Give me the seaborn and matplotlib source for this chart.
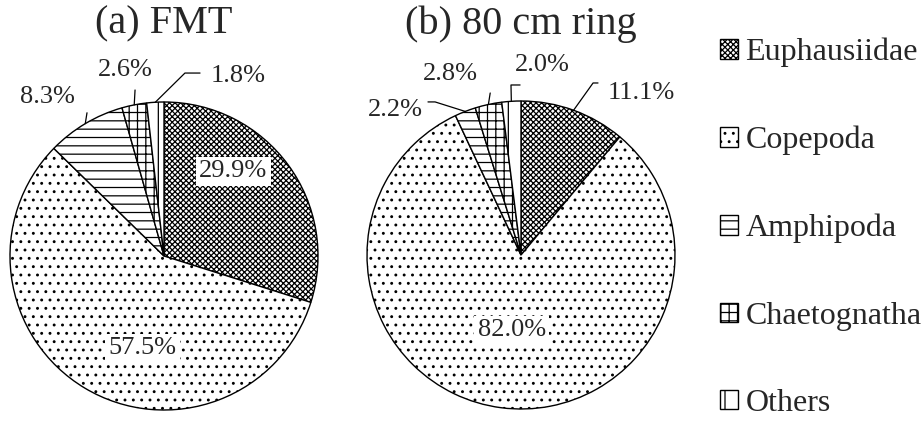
import numpy as np
import matplotlib
matplotlib.use("Agg")
import matplotlib.pyplot as plt
import seaborn as sns

sns.set_theme(style="white")
plt.rcParams["font.family"] = ["Liberation Serif", "DejaVu Serif"]
plt.rcParams["hatch.linewidth"] = 0.9

# data
categories = ["Euphausiidae", "Copepoda", "Amphipoda", "Chaetognatha", "Others"]
fmt_pct = [29.9, 57.5, 8.3, 2.6, 1.8]
ring_pct = [11.1, 82.0, 2.2, 2.8, 2.0]
titles = ["(a) FMT", "(b) 80 cm ring"]

hatches = ["xxxxxx", "..", "--", "++", "|"]

# label layout in pie-radius units: text x, text y, ha, leader elbow points (None = inside label)
fmt_layout = [
    (0.45, 0.55, "center", None),
    (-0.14, -0.60, "center", None),
    (-0.76, 1.03, "center", [(-0.50, 0.93)]),
    (-0.25, 1.21, "center", [(-0.188, 1.078)]),
    (0.30, 1.17, "left", [(0.136, 1.188), (0.234, 1.188)]),
]
ring_layout = [
    (0.56, 1.05, "left", [(0.468, 1.117), (0.50, 1.117)]),
    (-0.06, -0.49, "center", None),
    (-0.64, 0.94, "right", [(-0.558, 0.994), (-0.604, 0.994)]),
    (-0.46, 1.175, "center", [(-0.20, 1.052)]),
    (0.136, 1.234, "center", [(-0.065, 1.104), (-0.006, 1.104)]),
]

fig = plt.figure(figsize=(9.21, 4.22), dpi=100)
ax1 = fig.add_axes([10 / 921, 12 / 422, 308 / 921, 308 / 422])
ax2 = fig.add_axes([367 / 921, 13 / 422, 308 / 921, 308 / 422])


def draw_pie(ax, values, layout):
    wedges, _ = ax.pie(values, startangle=90, counterclock=False,
                       colors=["white"] * len(values), hatch=hatches,
                       wedgeprops=dict(edgecolor="black", linewidth=1.0))
    for w, v, (tx, ty, ha, elbow) in zip(wedges, values, layout):
        label = f"{v:.1f}%"
        if elbow is None:
            ax.text(tx, ty, label, ha="center", va="center", fontsize=19,
                    bbox=dict(facecolor="white", edgecolor="none", pad=2.5))
            continue
        mid = np.deg2rad((w.theta1 + w.theta2) / 2)
        pts = [(np.cos(mid), np.sin(mid))] + elbow
        xs, ys = zip(*pts)
        ax.plot(xs, ys, color="black", lw=0.9, clip_on=False)
        ax.text(tx, ty, label, ha=ha, va="center", fontsize=19)
    ax.set_xlim(-1, 1)
    ax.set_ylim(-1, 1)
    ax.set_aspect("equal")
    ax.axis("off")
    return wedges


wedges = draw_pie(ax1, fmt_pct, fmt_layout)
draw_pie(ax2, ring_pct, ring_layout)

fig.text(164 / 921, 1 - 24 / 422, titles[0], ha="center", va="center", fontsize=29)
fig.text(521 / 921, 1 - 24 / 422, titles[1], ha="center", va="center", fontsize=29)

fig.legend(wedges, categories, loc="center left", bbox_to_anchor=(720 / 921, 1 - 228 / 422),
           frameon=False, fontsize=23, handlelength=0.55, handleheight=0.55,
           handletextpad=0.25, labelspacing=1.83, borderpad=0, borderaxespad=0)

fig.savefig("out.png", dpi=100)
